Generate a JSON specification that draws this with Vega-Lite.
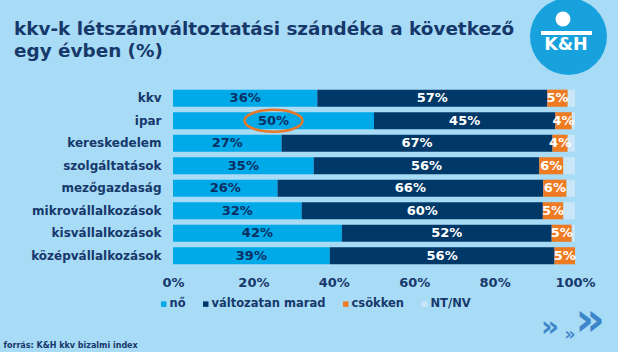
{
  "$schema": "https://vega.github.io/schema/vega-lite/v6.json",
  "width": 402,
  "height": 180,
  "autosize": {"type": "none"},
  "padding": {"left": 173, "top": 87, "right": 43, "bottom": 85},
  "background": "#a7dbf6",
  "config": {"view": {"stroke": null}, "font": "DejaVu Sans"},
  "title": {
    "text": ["kkv-k létszámváltoztatási szándéka a következő", "egy évben (%)"],
    "anchor": "start",
    "frame": "group",
    "dx": -159,
    "offset": -62,
    "fontSize": 18.4,
    "fontWeight": "bold",
    "color": "#17386b",
    "lineHeight": 22,
    "font": "DejaVu Sans"
  },
  "resolve": {"scale": {"y": "independent"}},
  "layer": [
    {
      "data": {
        "values": [
          {"cat": "kkv", "series": "nő", "ord": 1, "value": 0.359},
          {"cat": "kkv", "series": "változatan marad", "ord": 2, "value": 0.572},
          {"cat": "kkv", "series": "csökken", "ord": 3, "value": 0.051},
          {"cat": "kkv", "series": "NT/NV", "ord": 4, "value": 0.018},
          {"cat": "ipar", "series": "nő", "ord": 1, "value": 0.5},
          {"cat": "ipar", "series": "változatan marad", "ord": 2, "value": 0.451},
          {"cat": "ipar", "series": "csökken", "ord": 3, "value": 0.041},
          {"cat": "ipar", "series": "NT/NV", "ord": 4, "value": 0.008},
          {"cat": "kereskedelem", "series": "nő", "ord": 1, "value": 0.27},
          {"cat": "kereskedelem", "series": "változatan marad", "ord": 2, "value": 0.674},
          {"cat": "kereskedelem", "series": "csökken", "ord": 3, "value": 0.038},
          {"cat": "kereskedelem", "series": "NT/NV", "ord": 4, "value": 0.018},
          {"cat": "szolgáltatások", "series": "nő", "ord": 1, "value": 0.35},
          {"cat": "szolgáltatások", "series": "változatan marad", "ord": 2, "value": 0.561},
          {"cat": "szolgáltatások", "series": "csökken", "ord": 3, "value": 0.06},
          {"cat": "szolgáltatások", "series": "NT/NV", "ord": 4, "value": 0.029},
          {"cat": "mezőgazdaság", "series": "nő", "ord": 1, "value": 0.26},
          {"cat": "mezőgazdaság", "series": "változatan marad", "ord": 2, "value": 0.661},
          {"cat": "mezőgazdaság", "series": "csökken", "ord": 3, "value": 0.058},
          {"cat": "mezőgazdaság", "series": "NT/NV", "ord": 4, "value": 0.021},
          {"cat": "mikrovállalkozások", "series": "nő", "ord": 1, "value": 0.32},
          {"cat": "mikrovállalkozások", "series": "változatan marad", "ord": 2, "value": 0.6},
          {"cat": "mikrovállalkozások", "series": "csökken", "ord": 3, "value": 0.051},
          {"cat": "mikrovállalkozások", "series": "NT/NV", "ord": 4, "value": 0.029},
          {"cat": "kisvállalkozások", "series": "nő", "ord": 1, "value": 0.42},
          {"cat": "kisvállalkozások", "series": "változatan marad", "ord": 2, "value": 0.522},
          {"cat": "kisvállalkozások", "series": "csökken", "ord": 3, "value": 0.05},
          {"cat": "kisvállalkozások", "series": "NT/NV", "ord": 4, "value": 0.008},
          {"cat": "középvállalkozások", "series": "nő", "ord": 1, "value": 0.39},
          {"cat": "középvállalkozások", "series": "változatan marad", "ord": 2, "value": 0.559},
          {"cat": "középvállalkozások", "series": "csökken", "ord": 3, "value": 0.051},
          {"cat": "középvállalkozások", "series": "NT/NV", "ord": 4, "value": 0.0}
        ]
      },
      "encoding": {
        "y": {
          "field": "cat",
          "type": "nominal",
          "sort": ["kkv", "ipar", "kereskedelem", "szolgáltatások", "mezőgazdaság", "mikrovállalkozások", "kisvállalkozások", "középvállalkozások"],
          "scale": {"paddingInner": 0.24, "paddingOuter": 0.12},
          "axis": {
            "title": null,
            "domain": false,
            "ticks": false,
            "tickSize": 0,
            "labelPadding": 12,
            "labelFontSize": 12,
            "labelFontWeight": "bold",
            "labelColor": "#17386b",
            "labelFont": "DejaVu Sans"
          }
        }
      },
      "layer": [
        {
          "mark": {"type": "bar"},
          "encoding": {
            "x": {
              "field": "value",
              "type": "quantitative",
              "stack": "zero",
              "scale": {"domain": [0, 1], "nice": false},
              "axis": {
                "format": ".0%",
                "values": [0, 0.2, 0.4, 0.6, 0.8, 1],
                "grid": false,
                "domain": false,
                "ticks": false,
                "tickSize": 0,
                "labelFlush": false,
                "labelPadding": 9,
                "labelFontSize": 13,
                "labelFontWeight": "bold",
                "labelColor": "#17386b",
                "labelFont": "DejaVu Sans",
                "title": "forrás: K&H kkv bizalmi index",
                "titleX": -170,
                "titleY": 78,
                "titleAlign": "left",
                "titleBaseline": "middle",
                "titleFontSize": 8,
                "titleFontWeight": "bold",
                "titleColor": "#17386b",
                "titleFont": "DejaVu Sans"
              }
            },
            "color": {
              "field": "series",
              "type": "nominal",
              "scale": {
                "domain": ["nő", "változatan marad", "csökken", "NT/NV"],
                "range": ["#00a9e8", "#003868", "#ee7a22", "#c9e7f8"]
              },
              "legend": {
                "title": null,
                "orient": "none",
                "direction": "horizontal",
                "legendX": -15,
                "legendY": 211,
                "padding": 0,
                "symbolType": "square",
                "symbolSize": 30,
                "symbolStrokeWidth": 0,
                "labelOffset": 0,
                "columnPadding": 14,
                "labelFontSize": 11.5,
                "labelFontWeight": "bold",
                "labelColor": "#17386b",
                "labelFont": "DejaVu Sans"
              }
            },
            "order": {"field": "ord", "type": "quantitative"}
          }
        },
        {
          "transform": [{"filter": "datum.series !== 'NT/NV'"}],
          "mark": {"type": "text", "fontSize": 13, "fontWeight": "bold", "baseline": "middle", "align": "center", "font": "DejaVu Sans"},
          "encoding": {
            "x": {"field": "value", "type": "quantitative", "stack": "zero", "bandPosition": 0.5},
            "detail": {"field": "series"},
            "order": {"field": "ord", "type": "quantitative"},
            "text": {"field": "value", "type": "quantitative", "format": ".0%"},
            "color": {"condition": {"test": "datum.series === 'nő'", "value": "#0b2f63"}, "value": "#ffffff"}
          }
        },
        {
          "transform": [{"filter": "datum.series === 'nő' && datum.cat === 'ipar'"}],
          "mark": {
            "type": "point",
            "shape": "M-1,0 A1,0.38 0 1,1 1,0 A1,0.38 0 1,1 -1,0 Z",
            "size": 3364,
            "filled": false,
            "stroke": "#e8782a",
            "strokeWidth": 2.5,
            "opacity": 1
          },
          "encoding": {
            "x": {"field": "value", "type": "quantitative", "stack": "zero", "bandPosition": 0.5},
            "detail": {"field": "series"}
          }
        }
      ]
    },
    {
      "data": {"values": [{"logo": "K&H", "arrow": "»"}]},
      "layer": [
        {
          "mark": {"type": "point", "shape": "circle", "filled": true, "size": 5929, "color": "#17a2de", "opacity": 1},
          "encoding": {
            "x": {"datum": 0.9838, "type": "quantitative"},
            "y": {"datum": 1.2806, "type": "quantitative", "scale": {"domain": [0, 1], "nice": false}, "axis": null}
          }
        },
        {
          "mark": {"type": "point", "shape": "circle", "filled": true, "size": 225, "color": "#ffffff", "opacity": 1},
          "encoding": {
            "x": {"datum": 0.9701, "type": "quantitative"},
            "y": {"datum": 1.3778, "type": "quantitative", "axis": null}
          }
        },
        {
          "mark": {"type": "rule", "color": "#ffffff", "strokeWidth": 4},
          "encoding": {
            "x": {"datum": 0.9154, "type": "quantitative"},
            "x2": {"datum": 1.0423},
            "y": {"datum": 1.3, "type": "quantitative", "axis": null}
          }
        },
        {
          "mark": {"type": "text", "fontSize": 17.5, "fontWeight": "bold", "color": "#ffffff", "align": "center", "baseline": "middle", "font": "DejaVu Sans"},
          "encoding": {
            "x": {"datum": 0.9776, "type": "quantitative"},
            "y": {"datum": 1.2333, "type": "quantitative", "axis": null},
            "text": {"field": "logo"}
          }
        },
        {
          "mark": {"type": "text", "fontSize": 46, "fontWeight": "bold", "color": "#3c85c8", "align": "center", "baseline": "middle", "font": "DejaVu Sans"},
          "encoding": {
            "x": {"datum": 1.0373, "type": "quantitative"},
            "y": {"datum": -0.3, "type": "quantitative", "axis": null},
            "text": {"field": "arrow"}
          }
        },
        {
          "mark": {"type": "text", "fontSize": 28, "fontWeight": "bold", "color": "#3c85c8", "align": "center", "baseline": "middle", "font": "DejaVu Sans"},
          "encoding": {
            "x": {"datum": 0.9378, "type": "quantitative"},
            "y": {"datum": -0.3389, "type": "quantitative", "axis": null},
            "text": {"field": "arrow"}
          }
        },
        {
          "mark": {"type": "text", "fontSize": 17, "fontWeight": "bold", "color": "#3c85c8", "align": "center", "baseline": "middle", "font": "DejaVu Sans"},
          "encoding": {
            "x": {"datum": 0.9876, "type": "quantitative"},
            "y": {"datum": -0.3778, "type": "quantitative", "axis": null},
            "text": {"field": "arrow"}
          }
        }
      ]
    }
  ]
}
